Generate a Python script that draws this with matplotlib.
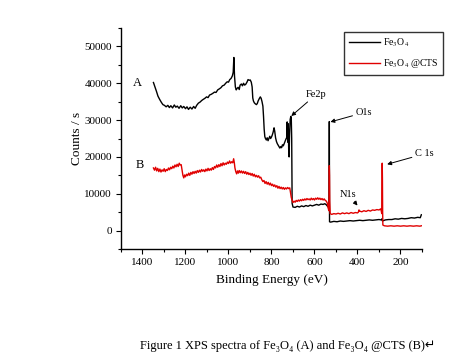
import matplotlib
matplotlib.use("Agg")
import matplotlib.pyplot as plt
from matplotlib.ticker import MultipleLocator

plt.rcParams['font.family'] = ['Liberation Serif', 'DejaVu Serif']
plt.rcParams['mathtext.fontset'] = 'stix'

# Fe3O4 (curve A)
energy_a = [1349, 1342, 1335, 1328, 1320, 1312, 1305, 1298, 1290, 1282, 1275, 1268,
            1260, 1252, 1245, 1238, 1230, 1222, 1215, 1208, 1200, 1193, 1186, 1178,
            1170, 1162, 1155, 1148, 1140, 1132, 1125, 1118, 1110, 1102, 1095, 1088,
            1080, 1072, 1065, 1058, 1050, 1042, 1035, 1028, 1020, 1013, 1006, 1000,
            994, 988, 982, 978, 975, 972, 968, 964, 960, 955, 950, 946, 940, 935,
            930, 925, 920, 914, 909, 904, 899, 894, 890, 887, 884, 880, 875, 870,
            866, 862, 857, 852, 848, 844, 840, 837, 834, 831, 828, 824, 820, 816,
            812, 808, 804, 800, 796, 792, 788, 785, 781, 777, 773, 769, 765, 761,
            757, 753, 749, 745, 741, 737, 733, 729, 727, 726, 724, 722, 720, 718,
            716, 713, 710, 708, 706, 704, 700, 690, 680, 670, 660, 650, 640, 630,
            620, 610, 600, 590, 580, 570, 560, 552, 545, 538, 534, 532, 531, 530,
            525, 510, 495, 480, 465, 450, 435, 420, 405, 390, 375, 360, 345, 330,
            315, 300, 290, 286, 284, 280, 270, 255, 240, 225, 210, 195, 180, 165,
            150, 135, 120, 108, 103]
counts_a = [40200, 39000, 37800, 36500, 35600, 34800, 34200, 34000, 33600, 34000, 33400, 33900,
            33300, 34100, 33500, 33800, 33200, 33900, 33300, 33700, 33100, 33600, 32900, 33500,
            33000, 33700, 33200, 34000, 34600, 34900, 35300, 35600, 35900, 36300, 36100, 36800,
            37000, 37300, 37600, 37500, 38200, 38500, 38800, 39300, 39500, 40000, 40400, 40300,
            41000, 41300, 42000, 43000, 47000, 42000, 39000, 38200, 38600, 38900, 38300, 39500, 39800, 39300,
            40000, 39500, 39700, 40300, 41000, 40800, 40900, 40300, 39000, 36000, 35200, 34700, 34400, 34200,
            34500, 35200, 35800, 36300, 35900, 35000, 33800, 31000, 27500, 25500, 25000, 24600, 25200, 24400,
            25000, 25600, 25000, 25400, 26000, 26800, 27900, 27000, 25200, 24200, 23600, 23200, 22800, 22400,
            22800, 22500, 23300, 23000, 23600, 24200, 24800, 25300, 29500, 26000, 24000, 29000, 22000, 20000,
            26000, 30200, 31000, 30600, 25000, 7400, 6400, 6300, 6600, 6400, 6700, 6500, 6800, 6600,
            6900, 6700, 6900, 7100, 6900, 7200, 7100, 7300, 7000, 6500, 6300, 7000, 29600, 2400,
            2300, 2500, 2400, 2600, 2500, 2600, 2700, 2600, 2700, 2800, 2700, 2800, 2900, 2800,
            2900, 3000, 2900, 3200, 2600, 2700, 2900, 3000, 3000, 3200, 3100, 3300, 3200, 3300,
            3500, 3400, 3600, 3500, 4300]

# Fe3O4@CTS (curve B)
energy_b = [1349, 1344, 1339, 1334, 1329, 1324, 1319, 1314, 1309, 1304, 1299, 1294,
            1289, 1284, 1279, 1274, 1269, 1264, 1259, 1254, 1249, 1244, 1239, 1234,
            1229, 1225, 1220, 1216, 1212, 1208, 1204, 1200, 1195, 1190, 1185, 1180,
            1175, 1170, 1165, 1160, 1155, 1150, 1145, 1140, 1135, 1130, 1125, 1120,
            1115, 1110, 1105, 1100, 1095, 1090, 1085, 1080, 1075, 1070, 1065, 1060,
            1055, 1050, 1045, 1040, 1035, 1030, 1025, 1020, 1015, 1010, 1005, 1000,
            995, 990, 985, 980, 976, 973, 970, 966, 962, 958, 954, 950, 945, 940,
            935, 930, 925, 920, 915, 910, 905, 900, 895, 890, 885, 880, 875, 870,
            865, 860, 855, 850, 845, 840, 835, 830, 825, 820, 815, 810, 805, 800,
            795, 790, 785, 780, 775, 770, 765, 760, 755, 750, 745, 740, 735, 730,
            725, 720, 715, 712, 708, 704, 700, 695, 690, 685, 680, 675, 670, 665,
            660, 655, 650, 645, 640, 635, 630, 625, 620, 615, 610, 605, 600, 595,
            590, 585, 580, 575, 570, 565, 560, 555, 550, 545, 540, 536, 533, 532,
            531, 530, 529, 527, 520, 510, 500, 490, 480, 470, 460, 450, 440, 430,
            420, 410, 400, 396, 393, 390, 380, 370, 360, 350, 340, 330, 320, 310,
            300, 292, 289, 287, 286, 285, 284, 283, 282, 275, 260, 245, 230, 215,
            200, 185, 170, 155, 140, 125, 110, 103]
counts_b = [17000, 16400, 17200, 16200, 16900, 16000, 16700, 15900, 16500, 16100, 16800, 16000,
            16600, 16300, 17000, 16500, 17200, 16800, 17500, 17000, 17800, 17300, 18000, 17400,
            18300, 17800, 17900, 16500, 15000, 14300, 15100, 14600, 15300, 14900, 15600, 15000,
            15800, 15300, 16000, 15500, 16100, 15600, 16300, 15800, 16400, 15900, 16600, 16100,
            16500, 16000, 16700, 16200, 16900, 16300, 16800, 16400, 17100, 16600, 17400, 17000,
            17800, 17200, 17900, 17400, 18200, 17600, 18400, 17800, 18300, 18000, 18600, 18200,
            18900, 18300, 18700, 18400, 19500, 18500, 17000, 16000, 15400, 16200, 15600, 16300, 15700, 16200,
            15600, 16100, 15500, 16000, 15300, 15800, 15200, 15600, 15000, 15500, 14800, 15300, 14600, 15000,
            14500, 14900, 14300, 14500, 13800, 13300, 13600, 12800, 13300, 12600, 13100, 12400, 12900, 12200,
            12600, 12000, 12400, 11800, 12200, 11500, 12000, 11400, 11800, 11300, 11700, 11200, 11600, 11300,
            11700, 11400, 11600, 10500, 9000, 8200, 7600, 8000, 7700, 8200, 7900, 8300, 8000, 8400,
            8100, 8500, 8200, 8600, 8300, 8700, 8400, 8600, 8300, 8800, 8400, 8700, 8300, 8800,
            8500, 8900, 8500, 8800, 8400, 8700, 8300, 8600, 8200, 8000, 7400, 6000, 5400, 12000,
            17600, 15000, 8000, 4600, 4400, 4600, 4500, 4700, 4500, 4800, 4600, 4800, 4600, 4900,
            4700, 4900, 4800, 5000, 5600, 5300, 5100, 5400, 5200, 5500, 5300, 5600, 5500, 5700,
            5600, 5900, 5200, 4600, 12000, 18300, 14000, 5000, 1500, 1300, 1200, 1300, 1200, 1300,
            1200, 1300, 1200, 1300, 1200, 1300, 1200, 1300]

x_ticks = [1400, 1200, 1000, 800, 600, 400, 200]
y_ticks = [0, 10000, 20000, 30000, 40000, 50000]

fig = plt.figure(figsize=(4.75, 3.54), dpi=100)
ax = fig.add_axes([0.2547, 0.2966, 0.6337, 0.6243])

ax.plot(energy_a, counts_a, color='black', lw=1.0, label=r'Fe$_3$O$_4$')
ax.plot(energy_b, counts_b, color='#e00000', lw=1.0, label=r'Fe$_3$O$_4$ @CTS')

ax.set_xlim(1500, 100)
ax.set_ylim(-5000, 55000)
ax.set_xticks(x_ticks)
ax.set_yticks(y_ticks)
ax.xaxis.set_minor_locator(MultipleLocator(100))
ax.yaxis.set_minor_locator(MultipleLocator(5000))
ax.tick_params(which='major', direction='out', length=3.5, width=0.8, labelsize=8, pad=3)
ax.tick_params(which='minor', direction='out', length=2, width=0.8)
for s in ['top', 'right']:
    ax.spines[s].set_visible(False)
for s in ['left', 'bottom']:
    ax.spines[s].set_linewidth(1.0)

ax.set_xlabel('Binding Energy (eV)', fontsize=9.5, labelpad=5)
ax.set_ylabel('Counts / s', fontsize=9.5, labelpad=1)

# curve labels and peak annotations
ax.text(1423, 40000, 'A', fontsize=9, ha='center', va='center')
ax.text(1414, 17800, 'B', fontsize=9, ha='center', va='center')
arrow = dict(arrowstyle='-|>', color='black', lw=0.7, mutation_scale=6, shrinkA=0, shrinkB=0)
ax.annotate('Fe2p', xy=(708, 31100), xytext=(593, 36900), fontsize=7.5,
            ha='center', va='center', arrowprops=arrow)
ax.annotate('O1s', xy=(526, 29500), xytext=(372, 32000), fontsize=7.5,
            ha='center', va='center', arrowprops=arrow, annotation_clip=False)
ax.annotate('C 1s', xy=(262, 18000), xytext=(91, 20800), fontsize=7.5,
            ha='center', va='center', arrowprops=arrow, annotation_clip=False)
ax.annotate('N1s', xy=(400, 6800), xytext=(442, 9800), fontsize=7.5,
            ha='center', va='center', arrowprops=arrow)

leg = fig.legend(loc='upper left', bbox_to_anchor=(0.724, 0.91), fontsize=7,
                 frameon=True, fancybox=False, borderpad=0.5, handlelength=3.2,
                 handletextpad=0.3, labelspacing=0.8, borderaxespad=0)
leg.get_frame().set_edgecolor('black')
leg.get_frame().set_linewidth(1.0)

fig.text(0.605, 0.022, 'Figure 1 XPS spectra of Fe\u2083O\u2084 (A) and Fe\u2083O\u2084 @CTS (B)\u21b5',
         fontsize=9, ha='center', va='center', family=['Liberation Serif', 'DejaVu Sans'])

fig.savefig('out.png', dpi=100)
